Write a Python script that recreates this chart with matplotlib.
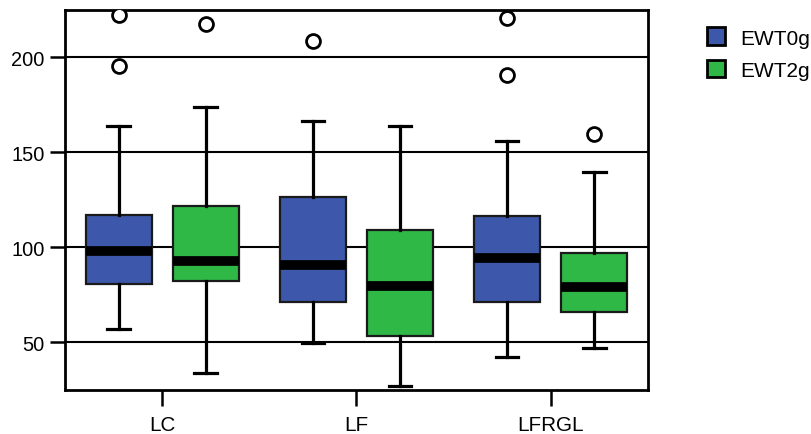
import matplotlib
matplotlib.use("Agg")
import matplotlib.pyplot as plt
from matplotlib.patches import Rectangle

plt.rcParams['font.family'] = ['Liberation Sans', 'DejaVu Sans']

categories = ["LC", "LF", "LFRGL"]
series = ["EWT0g", "EWT2g"]
colors = ["#3d58ab", "#2fb845"]

# per series: lists over categories
whislo = {"EWT0g": [57.0, 49.5, 42.1], "EWT2g": [33.8, 26.8, 47.0]}
q1 = {"EWT0g": [80.7, 71.4, 71.1], "EWT2g": [82.4, 53.2, 65.8]}
med = {"EWT0g": [98.2, 90.8, 94.2], "EWT2g": [92.6, 79.5, 78.9]}
q3 = {"EWT0g": [117.2, 126.3, 116.3], "EWT2g": [121.6, 109.1, 97.0]}
whishi = {"EWT0g": [164.0, 166.6, 156.1], "EWT2g": [173.7, 163.8, 139.5]}
fliers = {"EWT0g": [[222.4, 195.6], [208.7], [220.7, 190.7]],
          "EWT2g": [[217.5], [], [159.6]]}

yticks = [50, 100, 150, 200]

fig = plt.figure(figsize=(8.11, 4.35), dpi=100)
ax = fig.add_axes([0.0801, 0.1018, 0.7189, 0.8736])

offsets = [-0.224, 0.224]
for si, s in enumerate(series):
    stats = []
    for ci in range(len(categories)):
        stats.append(dict(whislo=whislo[s][ci], q1=q1[s][ci], med=med[s][ci],
                          q3=q3[s][ci], whishi=whishi[s][ci], fliers=fliers[s][ci]))
    pos = [ci + offsets[si] for ci in range(len(categories))]
    ax.bxp(stats, positions=pos, widths=0.34, capwidths=0.115, patch_artist=True,
           showfliers=True,
           boxprops=dict(facecolor=colors[si], edgecolor="#1a1a1a", linewidth=1.6),
           medianprops=dict(color="black", linewidth=7, solid_capstyle="butt"),
           whiskerprops=dict(color="black", linewidth=2.3),
           capprops=dict(color="black", linewidth=2.3),
           flierprops=dict(marker="o", markersize=10, markerfacecolor="white",
                           markeredgecolor="black", markeredgewidth=2),
           zorder=3)

for y in yticks:
    ax.axhline(y, color="black", linewidth=1.5, zorder=1)

ax.set_xlim(-0.5, 2.5)
ax.set_ylim(25, 225)
ax.set_xticks(range(len(categories)))
ax.set_xticklabels(categories)
ax.set_yticks(yticks)
ax.tick_params(axis="y", labelsize=14.4, length=11, width=1.8, color="black", pad=3.5)
ax.tick_params(axis="x", labelsize=14.9, length=11.5, width=1.8, color="black", pad=6.5)
for sp in ax.spines.values():
    sp.set_linewidth(2)
    sp.set_color("black")

# legend drawn in figure coordinates
W, H = 811.0, 435.0
box_tops = [28.3, 60.7]
baselines = [45.0, 77.3]
for i, (s, c) in enumerate(zip(series, colors)):
    fig.patches.append(Rectangle((707.3 / W, 1 - (box_tops[i] + 17.7) / H), 17.7 / W, 17.7 / H,
                                 facecolor=c, edgecolor="black", linewidth=2,
                                 transform=fig.transFigure, figure=fig))
    fig.text(740 / W, 1 - baselines[i] / H, s, fontsize=15.0, ha="left", va="baseline")

fig.savefig("out.png", dpi=100)
